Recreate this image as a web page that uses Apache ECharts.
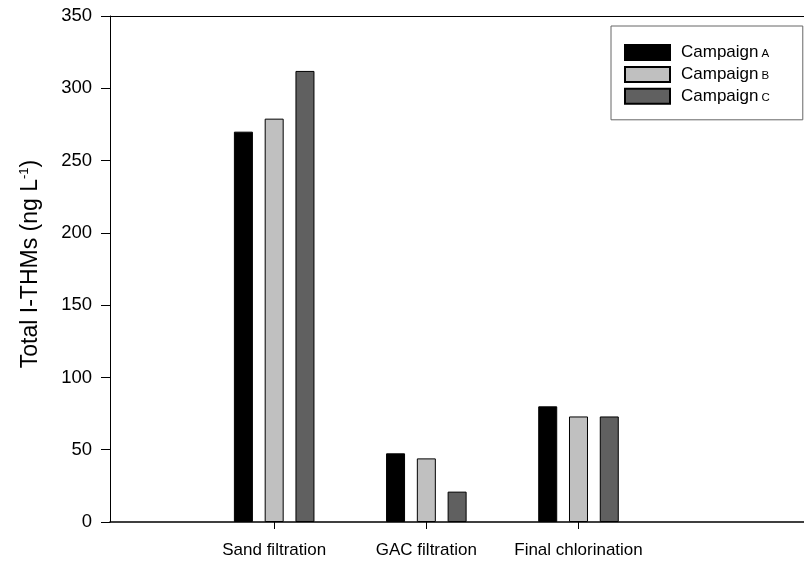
<!DOCTYPE html>
<html>
<head>
<meta charset="utf-8">
<script src="https://cdn.jsdelivr.net/npm/echarts@6/dist/echarts.min.js"></script>
<style>html,body{margin:0;padding:0;background:#fff}#c{width:804px;height:568px}</style>
</head>
<body>
<div id="c"></div>
<script>
var categories = ['Sand filtration', 'GAC filtration', 'Final chlorination'];
var campaignA = [270, 47.5, 80];
var campaignB = [279, 44, 73];
var campaignC = [312, 21, 73];
var seriesNames = ['Campaign A', 'Campaign B', 'Campaign C'];
var yTicks = [0, 50, 100, 150, 200, 250, 300, 350];

var FONT = '"Liberation Sans", Arial, sans-serif';
var colors = ['#000000', '#c0c0c0', '#606060'];
var positions = categories.map(function (c, i) { return i + 1; });

function toData(vals) {
  return vals.map(function (v, i) { return [positions[i], v]; });
}

var X_MIN = -0.079, X_MAX = 4.482;

var chart = echarts.init(document.getElementById('c'), null, {renderer: 'canvas'});
var allVals = [campaignA, campaignB, campaignC];
chart.setOption({
  animation: false,
  backgroundColor: '#fff',
  grid: {left: 110, top: 16, bottom: 46, right: 0, show: false},
  legend: {
    show: true,
    left: 611, top: 26,
    orient: 'vertical',
    itemWidth: 45, itemHeight: 15, itemGap: 4.9,
    padding: [18, 33, 15, 13],
    borderColor: '#666', borderWidth: 1,
    backgroundColor: '#fff',
    icon: 'rect',
    data: seriesNames,
    formatter: function (n) {
      var parts = n.split(' ');
      return '{a|' + parts[0] + '}{b|' + parts[1] + '}';
    },
    textStyle: {
      lineHeight: 15,
      rich: {
        a: {fontFamily: FONT, fontSize: 17, lineHeight: 15, color: '#000', padding: [0, 0, 0, 6]},
        b: {fontFamily: FONT, fontSize: 11.5, lineHeight: 15, color: '#000', padding: [3, 0, 0, 3]}
      }
    }
  },
  xAxis: [{
    type: 'value',
    min: X_MIN, max: X_MAX,
    splitLine: {show: false},
    axisLine: {show: true, onZero: false, lineStyle: {color: '#000', width: 1.5}},
    axisTick: {show: true, customValues: positions, length: 7, inside: false, lineStyle: {color: '#000'}},
    axisLabel: {
      customValues: positions,
      margin: 20,
      fontFamily: FONT, fontSize: 17, color: '#000',
      formatter: function (v) { return categories[Math.round(v) - 1] || ''; }
    }
  }, {
    type: 'value',
    position: 'top',
    min: X_MIN, max: X_MAX,
    splitLine: {show: false},
    axisLine: {show: true, onZero: false, lineStyle: {color: '#000', width: 1}},
    axisTick: {show: false},
    axisLabel: {show: false}
  }],
  yAxis: {
    type: 'value',
    min: 0, max: 350, interval: 50,
    splitLine: {show: false},
    axisLine: {show: true, onZero: false, lineStyle: {color: '#000'}},
    axisTick: {show: true, length: 9, lineStyle: {color: '#000'}},
    axisLabel: {
      margin: 18, fontFamily: FONT, fontSize: 18.5, color: '#000',
      customValues: yTicks
    },
    name: 'Total I-THMs (ng L{sup|-1})',
    nameLocation: 'middle',
    nameGap: 67,
    nameRotate: 90,
    nameTextStyle: {
      fontFamily: FONT, fontSize: 23, color: '#000',
      padding: [0, 0, 0, 10],
      rich: {sup: {fontFamily: FONT, fontSize: 13, color: '#000', padding: [0, 0, 12, 0]}}
    }
  },
  series: seriesNames.map(function (n, k) {
    return {
      name: n,
      type: 'bar',
      xAxisIndex: 0,
      barWidth: 19,
      barGap: '62%',
      data: toData(allVals[k]),
      itemStyle: {color: colors[k], borderColor: '#000', borderWidth: 1}
    };
  })
});
</script>
</body>
</html>
